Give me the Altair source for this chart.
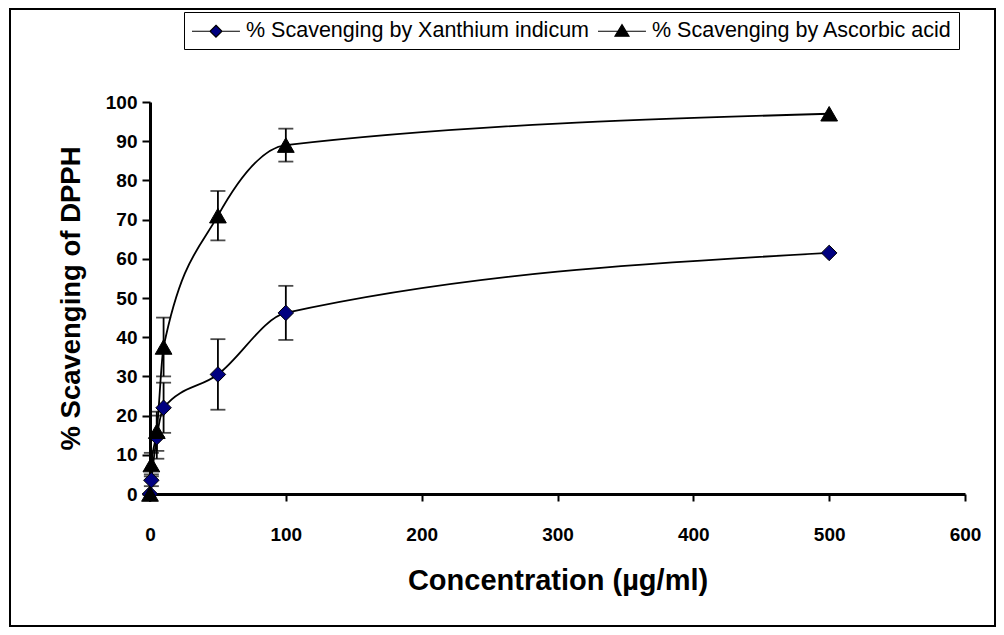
import altair as alt
import pandas as pd

conc = [0, 1, 5, 10, 50, 100, 500]
xanthium = [0, 3.5, 14.5, 22, 30.5, 46.2, 61.5]
xanthium_err = [0, 1.5, 5.5, 6.4, 9, 6.9, 0]
ascorbic = [0, 7.5, 16, 37.5, 71, 89, 97]
ascorbic_err = [0, 3, 5, 7.5, 6.3, 4.2, 0]
series = ["% Scavenging by Xanthium indicum", "% Scavenging by Ascorbic acid"]
x_ticks = [0, 100, 200, 300, 400, 500, 600]
y_ticks = [0, 10, 20, 30, 40, 50, 60, 70, 80, 90, 100]

rows = []
for s, vals, errs in [(series[0], xanthium, xanthium_err), (series[1], ascorbic, ascorbic_err)]:
    for c, v, e in zip(conc, vals, errs):
        rows.append({"series": s, "conc": c, "value": v, "err": e,
                     "lo": v - e, "hi": v + e})
df = pd.DataFrame(rows)

FONT = "Liberation Sans"

X_AXIS = alt.Axis(values=x_ticks, title="Concentration (µg/ml)",
                  grid=False, domainColor="black", domainWidth=3,
                  tickColor="black", tickWidth=2, tickSize=7,
                  labelFont=FONT, labelFontWeight="bold", labelFontSize=19,
                  labelColor="black", labelPadding=24, labelFlush=False,
                  labelOverlap=False,
                  titleFont=FONT, titleFontWeight="bold", titleFontSize=29,
                  titleColor="black", titlePadding=22)
Y_AXIS = alt.Axis(values=y_ticks, title="% Scavenging of DPPH",
                  grid=False, domainColor="black", domainWidth=3,
                  tickColor="black", tickWidth=2, tickSize=8,
                  labelFont=FONT, labelFontWeight="bold", labelFontSize=19,
                  labelColor="black", labelPadding=5, labelFlush=False,
                  labelOverlap=False,
                  titleFont=FONT, titleFontWeight="bold", titleFontSize=27.5,
                  titleColor="black", titlePadding=20)
X_SCALE = alt.Scale(domain=[0, 600], nice=False)
Y_SCALE = alt.Scale(domain=[0, 100], nice=False)


def xq(f="conc"):
    return alt.X(f + ":Q", scale=X_SCALE, axis=X_AXIS)


def yq(f):
    return alt.Y(f + ":Q", scale=Y_SCALE, axis=Y_AXIS)


base = alt.Chart(df)

lines = base.mark_line(color="black", strokeWidth=1.8, interpolate="monotone").encode(
    x=xq(), y=yq("value"), detail="series:N")

eb = df[df["err"] > 0]
err_rule = alt.Chart(eb).mark_rule(color="black", strokeWidth=1.8).encode(
    x=xq(), y=yq("lo"), y2="hi:Q")
cap_lo = alt.Chart(eb).mark_tick(color="black", thickness=1.8, size=15, orient="horizontal").encode(
    x=xq(), y=yq("lo"))
cap_hi = alt.Chart(eb).mark_tick(color="black", thickness=1.8, size=15, orient="horizontal").encode(
    x=xq(), y=yq("hi"))

pts_x = alt.Chart(df[df["series"] == series[0]]).mark_point(
    shape="diamond", filled=True, fill="#000080", stroke="black", strokeWidth=1,
    size=240, opacity=1).encode(x=xq(), y=yq("value"))
pts_a = alt.Chart(df[df["series"] == series[1]]).mark_point(
    shape="triangle-up", filled=True, fill="black", stroke="black", strokeWidth=1,
    size=280, opacity=1).encode(x=xq(), y=yq("value"))

# legend glyphs: short line with the marker in the middle (unit = 11 px)
path_d = ("M-1,0L0.635,0M1.725,0L3.36,0"
          "M1.18,-0.545L1.725,0L1.18,0.545L0.635,0Z")
path_t = "M-1,0L3.36,0M1.18,-0.6L1.816,0.45L0.544,0.45Z"

leg_kw = dict(title=None, orient="none", legendX=34, legendY=-90,
              direction="horizontal", strokeColor="black",
              fillColor="white", padding=7, columnPadding=6,
              symbolSize=484, symbolStrokeColor="black",
              symbolStrokeWidth=1.2, symbolOpacity=1,
              labelFont=FONT, labelFontSize=21.5, labelColor="black",
              labelOffset=31, labelLimit=600)

legend_layer = base.mark_point(filled=True, opacity=0, size=484, stroke="black",
                               strokeWidth=1.2).encode(
    x=xq(), y=yq("value"),
    shape=alt.Shape("series:N", scale=alt.Scale(domain=series, range=[path_d, path_t]),
                    legend=alt.Legend(**leg_kw)),
    fill=alt.Fill("series:N", scale=alt.Scale(domain=series, range=["#000080", "black"]),
                  legend=alt.Legend(**leg_kw)),
    stroke=alt.Stroke("series:N", scale=alt.Scale(domain=series, range=["black", "black"]),
                      legend=alt.Legend(**leg_kw)),
)

frame = alt.Chart(alt.Data(values=[{"a": 1}])).mark_rect(
    fill=None, stroke="black", strokeWidth=2).encode(
    x=alt.value(-140), x2=alt.value(845), y=alt.value(-93), y2=alt.value(524))

chart = alt.layer(lines, err_rule, cap_lo, cap_hi, pts_x, pts_a, legend_layer, frame).properties(
    width=815, height=392,
    padding={"left": 142, "top": 94, "right": 31, "bottom": 133},
    autosize=alt.AutoSizeParams(type="none"),
).configure(background="white", view=alt.ViewConfig(strokeWidth=0, stroke="transparent"))

chart.save("out.html", embed_options={"renderer": "svg", "actions": False})
